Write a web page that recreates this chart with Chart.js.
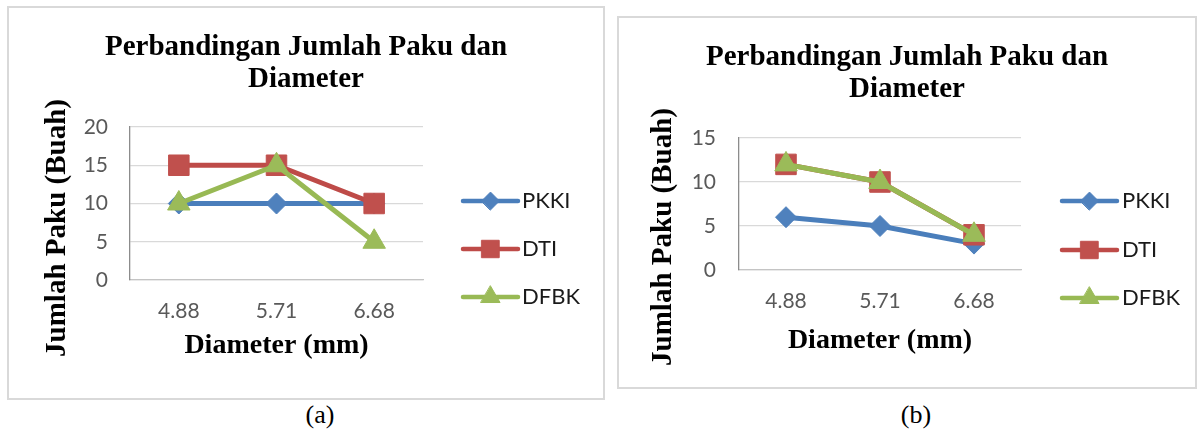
<!DOCTYPE html>
<html><head><meta charset="utf-8">
<script src="https://cdn.jsdelivr.net/npm/chart.js@4.4.1/dist/chart.umd.min.js"></script>
<style>
html,body{margin:0;padding:0;background:#fff;width:1200px;height:432px;overflow:hidden;position:relative}
.panel{position:absolute;border:2px solid #d9d9d9;box-sizing:border-box;background:#fff}
.panel canvas{position:absolute;left:0;top:0}
.cap{position:absolute;font-family:'Liberation Serif',serif;font-size:26px;line-height:28px;color:#000;transform:translateX(-50%)}
</style></head><body>
<div class="panel" style="left:7px;top:6px;width:598px;height:394px"><canvas id="ca" width="594" height="390" style="width:594px;height:390px"></canvas></div>
<div class="panel" style="left:617px;top:16px;width:580px;height:373px"><canvas id="cb" width="576" height="369" style="width:576px;height:369px"></canvas></div>
<div class="cap" style="left:320px;top:401px">(a)</div>
<div class="cap" style="left:916px;top:401px">(b)</div>
<script>
// ---- data ----
const categories = ['4.88', '5.71', '6.68'];
const seriesNames = ['PKKI', 'DTI', 'DFBK'];
const pkkiA = [10, 10, 10];
const dtiA  = [15, 15, 10];
const dfbkA = [10, 15, 5];
const pkkiB = [6, 5, 3];
const dtiB  = [12, 10, 4];
const dfbkB = [12, 10, 4];
const yMaxA = 20, yMaxB = 15, yStep = 5;
const chartTitle = ['Perbandingan Jumlah Paku dan', 'Diameter'];
const xTitle = 'Diameter (mm)';
const yTitle = 'Jumlah Paku (Buah)';

const lineColors = ['#4A7EBB', '#BE4B48', '#98B954'];
const fillColors = ['#4F81BD', '#C0504D', '#9BBB59'];
const styles = ['rectRot', 'rect', 'triangle'];
const radii = [10.5, 14.5, 13];

function makeDatasets(series) {
  return series.map((data, i) => ({
    label: seriesNames[i],
    data: data,
    borderColor: lineColors[i],
    backgroundColor: fillColors[i],
    borderWidth: 5,
    pointStyle: styles[i],
    pointRadius: radii[i],
    pointHoverRadius: radii[i],
    pointBackgroundColor: fillColors[i],
    pointBorderColor: fillColors[i],
    pointBorderWidth: 1,
    tension: 0,
    order: 3 - i
  }));
}

const sidePlugin = {
  id: 'side',
  afterDraw(chart, args, opts) {
    const ctx = chart.ctx;
    ctx.save();
    ctx.translate(opts.yTitleX, opts.yTitleY);
    ctx.rotate(-Math.PI / 2);
    ctx.font = 'bold 29px "Liberation Serif"';
    ctx.fillStyle = '#000';
    ctx.textAlign = 'center';
    ctx.textBaseline = 'middle';
    ctx.fillText(yTitle, 0, 0);
    ctx.restore();
    chart.data.datasets.forEach((ds, i) => {
      const y = opts.legendY[i];
      ctx.save();
      ctx.strokeStyle = ds.borderColor;
      ctx.lineWidth = 4.5;
      ctx.lineCap = 'round';
      ctx.beginPath();
      ctx.moveTo(opts.lineX0, y);
      ctx.lineTo(opts.lineX1, y);
      ctx.stroke();
      ctx.fillStyle = ds.pointBackgroundColor;
      ctx.strokeStyle = ds.pointBorderColor;
      ctx.lineWidth = 1;
      Chart.helpers.drawPoint(ctx, {pointStyle: ds.pointStyle, radius: ds.pointRadius * 0.85, borderWidth: 1, rotation: 0}, (opts.lineX0 + opts.lineX1) / 2, y);
      ctx.fillStyle = '#1a1a1a';
      ctx.font = '22px Lato';
      ctx.textAlign = 'left';
      ctx.textBaseline = 'middle';
      ctx.fillText(ds.label, opts.textX, y);
      ctx.restore();
    });
  }
};

function makeChart(id, series, yMax, g) {
  return new Chart(document.getElementById(id), {
    type: 'line',
    data: { labels: categories, datasets: makeDatasets(series) },
    plugins: [sidePlugin],
    options: {
      responsive: false,
      animation: false,
      events: [],
      layout: { padding: 0 },
      plugins: {
        legend: { display: false },
        tooltip: { enabled: false },
        title: {
          display: true, text: chartTitle, color: '#000',
          font: { family: 'Liberation Serif', size: 29, weight: 'bold', lineHeight: 32 / 29 },
          padding: { top: g.titleTop, bottom: g.titleBottom }
        },
        side: g.side
      },
      scales: {
        x: {
          offset: true,
          grid: { display: false, drawTicks: false },
          border: { display: true, color: '#c4c4c4', width: 1.3 },
          ticks: { padding: 19, color: '#595959', font: { family: 'Lato', size: 21, lineHeight: 1.2 } },
          title: { display: true, text: xTitle, color: '#000',
            font: { family: 'Liberation Serif', size: 28, weight: 'bold', lineHeight: 1.2 },
            padding: { top: 0, bottom: g.xTitleBottom } },
          afterFit(s) { s.height = g.xH; }
        },
        y: {
          min: 0, max: yMax,
          ticks: { stepSize: yStep, padding: g.yPad, color: '#595959', font: { family: 'Lato', size: 21 } },
          grid: { color: '#d9d9d9', lineWidth: 1.2, drawTicks: false },
          border: { display: true, color: '#8c8c8c', width: 1.3 },
          afterFit(s) { s.width = g.yW; }
        },
        yR: {
          position: 'right', display: true,
          grid: { display: false, drawTicks: false },
          border: { display: false },
          ticks: { display: false },
          afterFit(s) { s.width = g.rW; }
        }
      }
    }
  });
}

makeChart('ca', [pkkiA, dtiA, dfbkA], yMaxA, {
  titleTop: 24, titleBottom: 31, xTitleBottom: 35.7, xH: 118, yW: 121, rW: 180, yPad: 22,
  side: { yTitleX: 48.5, yTitleY: 220, legendY: [193, 241, 289], lineX0: 454, lineX1: 509, textX: 513 }
});
makeChart('cb', [pkkiB, dtiB, dfbkB], yMaxB, {
  titleTop: 24, titleBottom: 32, xTitleBottom: 29.7, xH: 117, yW: 120, rW: 174, yPad: 23,
  side: { yTitleX: 45, yTitleY: 219, legendY: [183, 232, 280], lineX0: 443, lineX1: 498, textX: 503 }
});
</script>
</body></html>
